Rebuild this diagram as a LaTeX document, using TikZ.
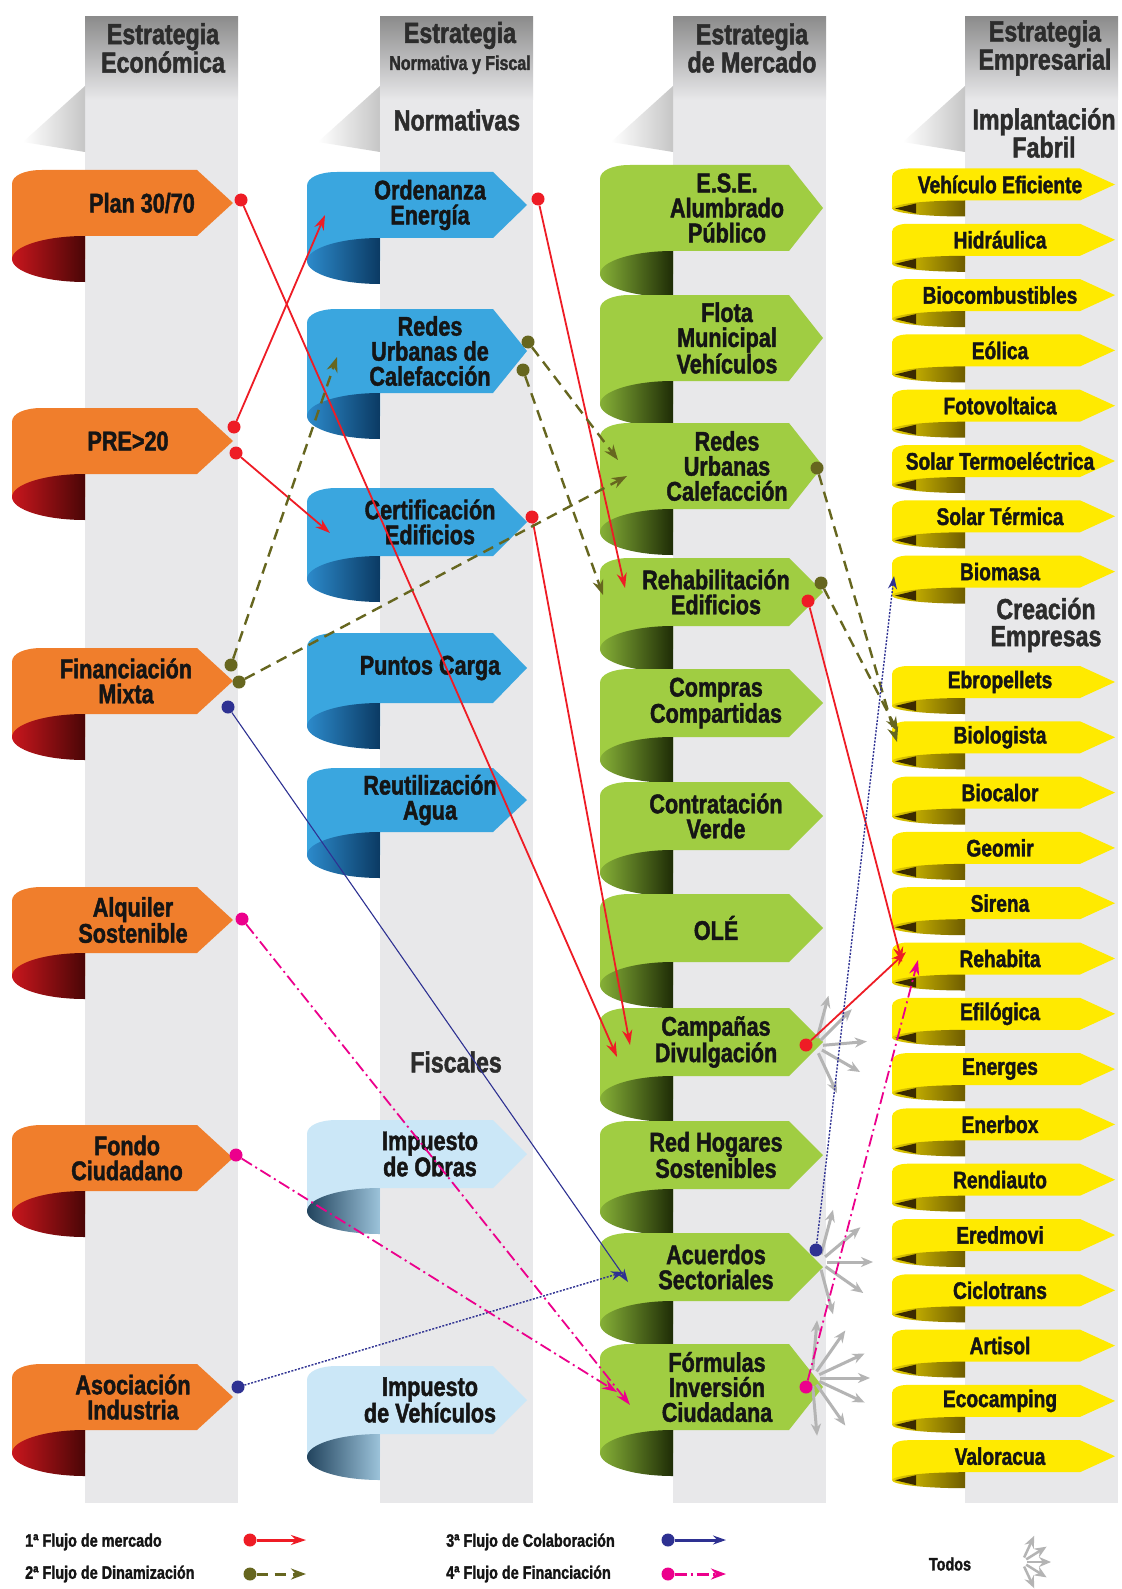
\documentclass[tikz,border=0pt]{standalone}
\usepackage{fontspec}
\setmainfont{Liberation Sans}
\newfontfamily\impacto{Liberation Sans}[UprightFont={* Bold}, FakeStretch=0.8, FakeBold=1.6]
\usetikzlibrary{arrows.meta}

\definecolor{tira}{HTML}{E8E8EA}
\definecolor{cabeza}{HTML}{8C8C8C}
\definecolor{naranja}{HTML}{F07E2C}
\definecolor{rojo1}{HTML}{C8161D}
\definecolor{rojo2}{HTML}{4A0606}
\definecolor{azul}{HTML}{3AA6DF}
\definecolor{azul1}{HTML}{2C8ACB}
\definecolor{azul2}{HTML}{0B3A63}
\definecolor{celeste}{HTML}{CBE7F7}
\definecolor{celeste1}{HTML}{9CC3DA}
\definecolor{celeste2}{HTML}{22445E}
\definecolor{verde}{HTML}{A0CD42}
\definecolor{verde1}{HTML}{86B037}
\definecolor{verde2}{HTML}{1E2C06}
\definecolor{amarillo}{HTML}{FFEA00}
\definecolor{oro1}{HTML}{E6CF00}
\definecolor{oro2}{HTML}{6E5C00}
\definecolor{oro3}{HTML}{3A2A00}
\definecolor{fmerc}{HTML}{EE1C25}
\definecolor{fdin}{HTML}{66661F}
\definecolor{fcol}{HTML}{2E3192}
\definecolor{ffin}{HTML}{EC008C}
\definecolor{ftodos}{HTML}{B4B4B4}
\definecolor{tinta}{HTML}{151515}

% ribbon: #1 centre y, #2 half height, #3 band colour, #4 shading of the curl
\newcommand{\cinta}[4]{%
  \fill[#3] (\xs,#1+#2+\cry) -- (\xl,#1+#2+\cry) -- (\xl,#1-#2+\rd)
    .. controls (\xl,#1-#2+0.4*\rd) and (\xl+0.4*\rx,#1-#2) .. (\xl+\rx,#1-#2)
    -- (\xsh,#1-#2) -- (\xt,#1) -- (\xsh,#1+#2) -- (\xs,#1+#2) -- cycle;
  \shade[#4] (\xs,#1+#2) arc[start angle=270, end angle=90, x radius=\cw, y radius=\cry] -- cycle;
}

\begin{document}
\begin{tikzpicture}[x=1pt,y=-1pt,
  rotulo/.style={font=\impacto\fontsize{27}{25}\selectfont, align=center, text=tinta, inner sep=0pt},
  rotulop/.style={font=\impacto\fontsize{24}{24}\selectfont, text=tinta, inner sep=0pt},
  cabecera/.style={font=\impacto\fontsize{29}{27}\selectfont, align=center, text=tinta!90, inner sep=0pt},
  leyenda/.style={font=\impacto\fontsize{18}{18}\selectfont, text=tinta, inner sep=0pt},
  punto/.style={circle, fill, inner sep=0pt, minimum size=13pt},
  mercado/.style={fmerc, line width=1.8pt, -{Stealth[length=15pt,width=10pt]}},
  dinam/.style={fdin, line width=2.4pt, dash pattern=on 11pt off 7pt, -{Stealth[length=15pt,width=11pt]}},
  colab/.style={fcol, line width=1.4pt, dash pattern=on 2pt off 1.5pt, -{Stealth[length=13pt,width=9pt]}},
  financ/.style={ffin, line width=1.8pt, dash pattern=on 12pt off 4pt on 2pt off 4pt, -{Stealth[length=15pt,width=10pt]}},
  todos/.style={ftodos, line width=3pt, -{Stealth[length=12pt,width=10pt]}}]

\useasboundingbox (0,0) rectangle (1121,1589);
\fill[white] (0,0) rectangle (1121,1589);

% strips
\foreach \xs in {85,380,673,965}{
\fill[tira] (\xs,17) rectangle (\xs+153,1503);
\shade[top color=cabeza, bottom color=tira] (\xs,17) rectangle (\xs+153,100);
\shade[left color=white, right color=gray!45] (\xs,86) -- (\xs-62,142) -- (\xs,152) -- cycle;
}

\node[cabecera] (h-eco) at (163,48) {Estrategia\\Económica};
\node[cabecera] (h-nor) at (460,48) {Estrategia\\{\fontsize{20}{20}\selectfont Normativa y Fiscal}};
\node[cabecera] (h-mer) at (752,48) {Estrategia\\de Mercado};
\node[cabecera] (h-emp) at (1045,48) {Estrategia\\Empresarial};

\node[cabecera] (normativas) at (457,120) {Normativas};
\node[cabecera] (fiscales) at (456,1062) {Fiscales};
\node[cabecera] (fabril) at (1044,133) {Implantación\\Fabril};
\node[cabecera] (creacion) at (1046,625) {Creación\\Empresas};

% economic column
\def\xl{12}\def\xs{85}\def\xsh{197}\def\xt{233}\def\cry{23}\def\cw{73}\def\rd{14}\def\rx{30}
\foreach \xx/\yc/\nm/\tx in {142/203/plan/{Plan 30/70}, 128/441/pre/{PRE>20},
  126/681/fin/{Financiación\\Mixta}, 133/920/alq/{Alquiler\\Sostenible},
  127/1158/fondo/{Fondo\\Ciudadano}, 133/1397/asoc/{Asociación\\Industria}}{
\cinta{\yc}{33}{naranja}{left color=rojo1, right color=rojo2}
\node[rotulo] (\nm) at (\xx,\yc) {\tx};
}

% normative column
\def\xl{307}\def\xs{380}\def\xsh{493}\def\xt{527}
\foreach \yc/\hh/\nm/\tx in {205/33/ord/{Ordenanza\\Energía}, 351/42/redes/{Redes\\Urbanas de\\Calefacción},
  522/34/cert/{Certificación\\Edificios}, 668/35/puntos/{Puntos Carga}, 800/32/reut/{Reutilización\\Agua}}{
\cinta{\yc}{\hh}{azul}{left color=azul1, right color=azul2}
\node[rotulo] (\nm) at (430,\yc) {\tx};
}
\foreach \yc/\nm/\tx in {1154/iobras/{Impuesto\\de Obras}, 1400/iveh/{Impuesto\\de Vehículos}}{
\cinta{\yc}{34}{celeste}{left color=celeste2, right color=celeste1}
\node[rotulo] (\nm) at (430,\yc) {\tx};
}

% market column
\def\xl{600}\def\xs{673}\def\xsh{789}\def\xt{823}
\foreach \xx/\yc/\hh/\nm/\tx in {727/208/43/ese/{E.S.E.\\Alumbrado\\Público}, 727/338/43/flota/{Flota\\Municipal\\Vehículos},
  727/466/43/redurb/{Redes\\Urbanas\\Calefacción}, 716/592/34/rehab/{Rehabilitación\\Edificios},
  716/703/34/compras/{Compras\\Compartidas}, 716/816/34/contr/{Contratación\\Verde},
  716/928/34/ole/{OLÉ}, 716/1042/34/camp/{Campañas\\Divulgación},
  716/1155/34/hogares/{Red Hogares\\Sostenibles}, 716/1267/34/acu/{Acuerdos\\Sectoriales},
  717/1387/43/form/{Fórmulas\\Inversión\\Ciudadana}}{
\cinta{\yc}{\hh}{verde}{left color=verde1, right color=verde2}
\node[rotulo] (\nm) at (\xx,\yc) {\tx};
}

% business column
\def\xl{892}\def\xs{965}\def\xsh{1080}\def\xt{1115}\def\cry{8}\def\rd{8}\def\rx{16}
\foreach \yc/\nm/\tx in {184.5/veh/Vehículo Eficiente, 239.8/hidr/Hidráulica, 295.1/bioc/Biocombustibles,
  350.4/eol/Eólica, 405.7/foto/Fotovoltaica, 461/stermo/Solar Termoeléctrica, 516.3/sterm/Solar Térmica,
  571.6/biom/Biomasa, 682/ebro/Ebropellets, 737.3/biol/Biologista, 792.6/bcal/Biocalor,
  847.9/geo/Geomir, 903.2/sir/Sirena, 958.5/rehabita/Rehabita, 1013.8/efi/Efilógica,
  1069.1/energ/Energes, 1124.4/enerb/Enerbox, 1179.7/rend/Rendiauto, 1235/ered/Eredmovi,
  1290.3/ciclo/Ciclotrans, 1345.6/arti/Artisol, 1400.9/ecoc/Ecocamping, 1456.2/valo/Valoracua}{
\cinta{\yc}{16}{amarillo}{left color=oro1, right color=oro2}
\fill[oro3] (\xl+3,\yc+24) -- (\xl+24,\yc+19) -- (\xl+24,\yc+29) -- cycle;
\node[rotulop] (\nm) at (1000,\yc) {\tx};
}

% "todos" bursts
\coordinate (camp-t) at (815,1046);
\coordinate (acu-t) at (819,1262);
\coordinate (form-t) at (812,1378);
\foreach \a in {-75,-45,-5,30,65} \draw[todos] (camp-t) ++(\a:8) -- ++(\a:44);
\foreach \a in {-75,-40,0,35,75} \draw[todos] (acu-t) ++(\a:8) -- ++(\a:46);
\foreach \a in {-85,-55,-25,0,25,55,85} \draw[todos] (form-t) ++(\a:8) -- ++(\a:50);

% flow dots
\node[punto, fmerc] (plan-o) at (241,200) {};
\node[punto, fmerc] (pre-o1) at (234,427) {};
\node[punto, fmerc] (pre-o2) at (236,453) {};
\node[punto, fmerc] (ord-o) at (538,199) {};
\node[punto, fmerc] (cert-o) at (532,517) {};
\node[punto, fmerc] (rehab-o2) at (808,601) {};
\node[punto, fmerc] (camp-o) at (806,1045) {};
\node[punto, fdin] (fin-o1) at (231,665) {};
\node[punto, fdin] (fin-o2) at (239,682) {};
\node[punto, fdin] (redes-o1) at (528,342) {};
\node[punto, fdin] (redes-o2) at (523,370) {};
\node[punto, fdin] (redurb-o) at (817,468) {};
\node[punto, fdin] (rehab-o1) at (821,583) {};
\node[punto, fcol] (fin-o3) at (228,707) {};
\node[punto, fcol] (asoc-o) at (238,1387) {};
\node[punto, fcol] (acu-o) at (816,1250) {};
\node[punto, ffin] (alq-o) at (242,919) {};
\node[punto, ffin] (fondo-o) at (236,1155) {};
\node[punto, ffin] (form-o) at (806,1387) {};

% arrow ends
\coordinate (camp-e1) at (617,1057);
\coordinate (camp-e2) at (630,1045);
\coordinate (ord-e) at (325,215);
\coordinate (cert-e) at (330,533);
\coordinate (rehab-e1) at (625,588);
\coordinate (rehab-e2) at (603,595);
\coordinate (rehabita-e1) at (902,962);
\coordinate (rehabita-e2) at (906,952);
\coordinate (rehabita-e3) at (918,960);
\coordinate (redes-e) at (337,357);
\coordinate (redurb-e1) at (627,476);
\coordinate (redurb-e2) at (618,460);
\coordinate (biol-e1) at (897,742);
\coordinate (biol-e2) at (898,732);
\coordinate (acu-e1) at (628,1282);
\coordinate (acu-e2) at (624,1272);
\coordinate (biom-e) at (894,576);
\coordinate (form-e1) at (630,1405);
\coordinate (form-e2) at (617,1392);

% 1 market
\draw[mercado] (plan-o) -- (camp-e1);
\draw[mercado] (pre-o1) -- (ord-e);
\draw[mercado] (pre-o2) -- (cert-e);
\draw[mercado] (ord-o) -- (rehab-e1);
\draw[mercado] (cert-o) -- (camp-e2);
\draw[mercado] (rehab-o2) -- (rehabita-e1);
\draw[mercado] (camp-o) -- (rehabita-e2);
% 2 dynamisation
\draw[dinam] (fin-o1) -- (redes-e);
\draw[dinam] (fin-o2) -- (redurb-e1);
\draw[dinam] (redes-o1) -- (redurb-e2);
\draw[dinam] (redes-o2) -- (rehab-e2);
\draw[dinam] (redurb-o) -- (biol-e1);
\draw[dinam] (rehab-o1) -- (biol-e2);
% 3 collaboration
\draw[colab, solid, line width=1.1pt] (fin-o3) -- (acu-e1);
\draw[colab] (asoc-o) -- (acu-e2);
\draw[colab] (acu-o) -- (biom-e);
% 4 financing
\draw[financ] (alq-o) -- (form-e1);
\draw[financ] (fondo-o) -- (form-e2);
\draw[financ] (form-o) -- (rehabita-e3);

% legend
\node[leyenda, anchor=west] (l1) at (25,1542) {1ª Flujo de mercado};
\node[leyenda, anchor=west] (l2) at (25,1574) {2ª Flujo de Dinamización};
\node[leyenda, anchor=west] (l3) at (446,1542) {3ª Flujo de Colaboración};
\node[leyenda, anchor=west] (l4) at (446,1574) {4ª Flujo de Financiación};
\node[leyenda] (l5) at (950,1564) {Todos};
\node[punto, fmerc] (l1a) at (250,1540) {};
\node[punto, fdin] (l2a) at (250,1574) {};
\node[punto, fcol] (l3a) at (668,1540) {};
\node[punto, ffin] (l4a) at (668,1574) {};
\coordinate (l1b) at (306,1540);
\coordinate (l2b) at (306,1574);
\coordinate (l3b) at (726,1540);
\coordinate (l4b) at (726,1574);
\draw[mercado, line width=3pt] (l1a) -- (l1b);
\draw[dinam, line width=3pt] (l2a) -- (l2b);
\draw[colab, solid, line width=3pt] (l3a) -- (l3b);
\draw[financ, line width=3pt, -{Stealth[open, length=15pt, width=11pt]}] (l4a) -- (l4b);
\coordinate (l5o) at (1022,1562);
\foreach \a in {-65,-32,0,32,65} \draw[todos, line width=2.5pt] (l5o) ++(\a:5) -- ++(\a:24);

\end{tikzpicture}
\end{document}
